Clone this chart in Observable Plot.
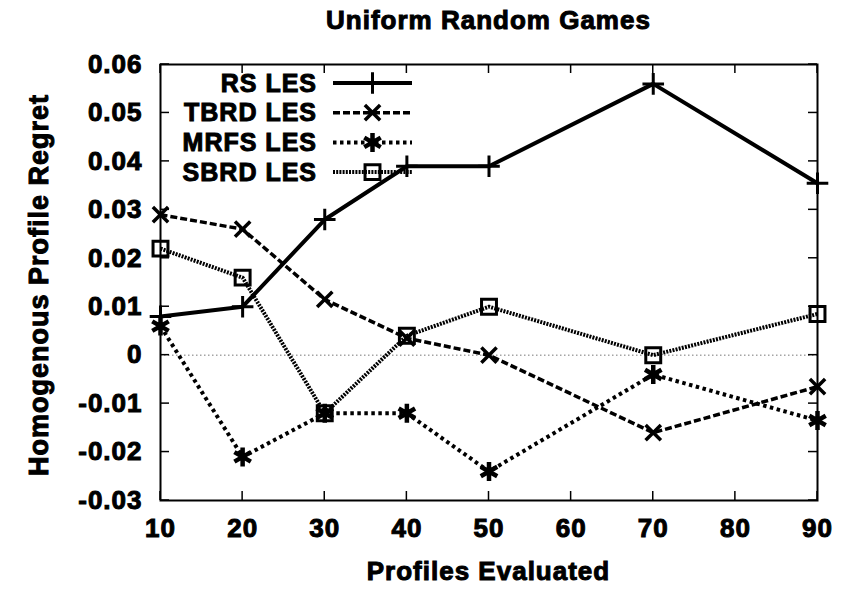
<!DOCTYPE html>
<html><head><meta charset="utf-8">
<script src="https://cdn.jsdelivr.net/npm/d3@7"></script>
<script src="https://cdn.jsdelivr.net/npm/@observablehq/plot@0.6"></script>
<style>
body{margin:0;background:#fff;}
svg text{font-family:"Liberation Sans",Arial,Helvetica,sans-serif;font-weight:bold;stroke:black;stroke-width:1px;}
</style></head><body><div id="chart"></div>
<script>
const profiles = [10, 20, 30, 40, 50, 70, 90];
const seriesNames = ["RS LES", "TBRD LES", "MRFS LES", "SBRD LES"];
const rsLES   = [0.008, 0.010, 0.028, 0.039, 0.039, 0.056, 0.0355];
const tbrdLES = [0.029, 0.026, 0.0115, 0.0035, 0.000, -0.016, -0.0065];
const mrfsLES = [0.006, -0.021, -0.012, -0.012, -0.024, -0.004, -0.0135];
const sbrdLES = [0.022, 0.016, -0.012, 0.004, 0.010, 0.000, 0.0085];
const xTicks = [10, 20, 30, 40, 50, 60, 70, 80, 90];
const yTicks = [-0.03, -0.02, -0.01, 0, 0.01, 0.02, 0.03, 0.04, 0.05, 0.06];
const titleText = "Uniform Random Games";
const xLabel = "Profiles Evaluated";
const yLabel = "Homogenous Profile Regret";

const seriesValues = [rsLES, tbrdLES, mrfsLES, sbrdLES];
const seriesStyle = [
  {dash: null,      width: 4,   symbol: "plus",     r: 7,   sw: 3},
  {dash: "7,3",     width: 3.5, symbol: "times",    r: 7,   sw: 3.5},
  {dash: "3.5,3.5", width: 4,   symbol: "asterisk", r: 9,   sw: 4.5},
  {dash: "2,1.2",   width: 4,   symbol: "square2",  r: 9.5, sw: 3}
];
const d3Symbols = {plus: d3.symbolPlus, times: d3.symbolTimes, asterisk: d3.symbolAsterisk, square2: d3.symbolSquare2};

const rows = seriesNames.flatMap((name, i) =>
  profiles.map((p, j) => ({series: name, profiles: p, regret: seriesValues[i][j]})));

const FONT = 26;
const lineMarks = seriesNames.flatMap((name, i) => {
  const s = seriesStyle[i];
  const data = rows.filter(d => d.series === name);
  return [
    Plot.line(data, {x: "profiles", y: "regret", stroke: "black", strokeWidth: s.width,
      strokeDasharray: s.dash, strokeLinejoin: "miter", strokeLinecap: "butt"}),
    Plot.dot(data, {x: "profiles", y: "regret", symbol: s.symbol, r: s.r, stroke: "black",
      strokeWidth: s.sw, fill: "none"})
  ];
});

const plot = Plot.plot({
  width: 841, height: 591,
  marginTop: 64, marginRight: 24, marginBottom: 91, marginLeft: 160,
  style: {fontSize: FONT + "px", fontWeight: "bold", fontFamily: "'Liberation Sans', Arial, sans-serif", background: "white", letterSpacing: "1px"},
  x: {domain: [10, 90], axis: null},
  y: {domain: [-0.03, 0.06], axis: null},
  marks: [
    Plot.ruleY([0], {stroke: "#777", strokeWidth: 1, strokeDasharray: "1.5,2.5"}),
    ...lineMarks,
    Plot.axisX(xTicks, {anchor: "bottom", tickSize: 0, tickPadding: 18, fontSize: FONT, label: null, tickFormat: d => String(d)}),
    Plot.axisY(yTicks, {anchor: "left", tickSize: 0, tickPadding: 18, fontSize: FONT, label: null,
      tickFormat: d => d === 0 ? "0" : d.toFixed(2)}),
    Plot.frame({stroke: "black", strokeWidth: 2})
  ]
});
document.getElementById("chart").appendChild(plot);

// inward ticks on all four sides, drawn from the plot's scales
const xs = plot.scale("x"), ys = plot.scale("y");
const [fx0, fx1] = xs.range, [fy0, fy1] = ys.range; // y range: bottom, top
const svg = d3.select(plot);
const tk = svg.append("g").attr("stroke", "black").attr("stroke-width", 1.5);
const T = 9;
xTicks.forEach(v => {
  const px = xs.apply(v);
  tk.append("line").attr("x1", px).attr("x2", px).attr("y1", fy0).attr("y2", fy0 - T);
  tk.append("line").attr("x1", px).attr("x2", px).attr("y1", fy1).attr("y2", fy1 + T);
});
yTicks.forEach(v => {
  const py = ys.apply(v);
  tk.append("line").attr("y1", py).attr("y2", py).attr("x1", fx0).attr("x2", fx0 + T);
  tk.append("line").attr("y1", py).attr("y2", py).attr("x1", fx1).attr("x2", fx1 - T);
});

// titles
const cx = (fx0 + fx1) / 2, cy = (fy0 + fy1) / 2;
svg.append("text").attr("x", cx).attr("y", 29).attr("text-anchor", "middle")
  .attr("font-size", FONT).attr("font-weight", "bold").text(titleText);
svg.append("text").attr("x", cx).attr("y", 580).attr("text-anchor", "middle")
  .attr("font-size", FONT).attr("font-weight", "bold").text(xLabel);
svg.append("text").attr("transform", `translate(48,${cy + 3}) rotate(-90)`).attr("text-anchor", "middle")
  .attr("font-size", 27).attr("font-weight", "bold").text(yLabel);

// legend (top-left, inside the frame)
const lg = svg.append("g");
const legTextX = fx0 + 157, legLine0 = fx0 + 173, legLine1 = fx0 + 252, legRow0 = fy1 + 19, legStep = 29.7;
seriesNames.forEach((name, i) => {
  const s = seriesStyle[i];
  const y = legRow0 + i * legStep;
  lg.append("text").attr("x", legTextX).attr("y", y).attr("dy", "0.35em").attr("text-anchor", "end")
    .attr("font-size", 25).attr("font-weight", "bold").text(name);
  lg.append("line").attr("x1", legLine0).attr("x2", legLine1).attr("y1", y).attr("y2", y)
    .attr("stroke", "black").attr("stroke-width", s.width).attr("stroke-dasharray", s.dash);
  lg.append("path").attr("transform", `translate(${(legLine0 + legLine1) / 2},${y})`)
    .attr("d", d3.symbol(d3Symbols[s.symbol], Math.PI * s.r * s.r)())
    .attr("fill", "none").attr("stroke", "black").attr("stroke-width", s.sw);
});
</script></body></html>
